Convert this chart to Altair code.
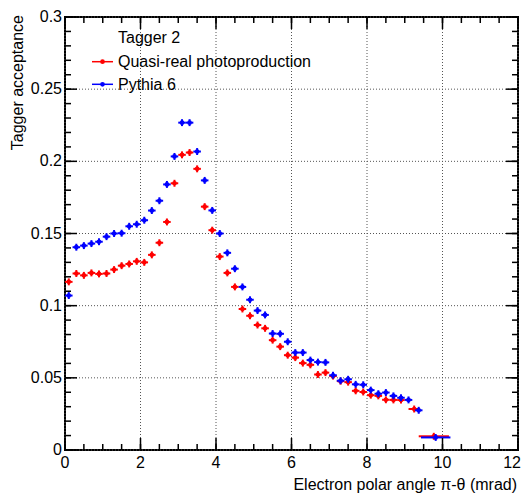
import altair as alt
import pandas as pd

FONT = "Liberation Sans"

legend_title = ["Tagger 2"]
series_names = ["Quasi-real photoproduction", "Pythia 6"]
series_colors = ["#ff0000", "#0000ff"]
guide_names = ["tick", "grid"]
guide_colors = ["#000000", "#555555"]
x_title = ["Electron polar angle π-θ (mrad)"]
y_title = ["Tagger acceptance"]

# Quasi-real photoproduction (red)
red_x = [0.1, 0.3, 0.5, 0.7, 0.9, 1.1, 1.3, 1.5, 1.7, 1.9, 2.1, 2.3, 2.5, 2.7, 2.9,
         3.1, 3.3, 3.5, 3.7, 3.9, 4.1, 4.3, 4.5, 4.7, 4.9, 5.1, 5.3, 5.5, 5.7, 5.9,
         6.1, 6.3, 6.5, 6.7, 6.9, 7.1, 7.3, 7.5, 7.7, 7.9, 8.1, 8.3, 8.5, 8.7, 8.9,
         9.25, 9.77]
red_hw = [0.1, 0.1, 0.1, 0.1, 0.1, 0.1, 0.1, 0.1, 0.1, 0.1, 0.1, 0.1, 0.1, 0.1, 0.1,
          0.1, 0.1, 0.1, 0.1, 0.1, 0.1, 0.1, 0.1, 0.1, 0.1, 0.1, 0.1, 0.1, 0.1, 0.1,
          0.1, 0.1, 0.1, 0.1, 0.1, 0.1, 0.1, 0.1, 0.1, 0.1, 0.1, 0.1, 0.1, 0.1, 0.1,
          0.15, 0.40]
red_y = [0.1165, 0.1223, 0.1210, 0.1227, 0.1220, 0.1223, 0.1250, 0.1277, 0.1289, 0.1307,
         0.1300, 0.1352, 0.1436, 0.1580, 0.1848, 0.2045, 0.2061, 0.1948, 0.1686, 0.1523,
         0.1340, 0.1227, 0.1130, 0.0977, 0.0930, 0.0866, 0.0843, 0.0761, 0.0716, 0.0657,
         0.0640, 0.0602, 0.0590, 0.0523, 0.0536, 0.0512, 0.0477, 0.0470, 0.0410, 0.0402,
         0.0380, 0.0375, 0.0348, 0.0347, 0.0346, 0.0284, 0.0095]
red_err = [0.0024] * len(red_x)

# Pythia 6 (blue)
blue_x = [0.1, 0.3, 0.5, 0.7, 0.9, 1.1, 1.3, 1.5, 1.7, 1.9, 2.1, 2.3, 2.5, 2.7, 2.9,
          3.1, 3.3, 3.5, 3.7, 3.9, 4.1, 4.3, 4.5, 4.7, 4.9, 5.1, 5.3, 5.5, 5.7, 5.9,
          6.1, 6.3, 6.5, 6.7, 6.9, 7.1, 7.3, 7.5, 7.7, 7.9, 8.1, 8.3, 8.5, 8.7, 8.9,
          9.1, 9.37, 9.82]
blue_hw = [0.1, 0.1, 0.1, 0.1, 0.1, 0.1, 0.1, 0.1, 0.1, 0.1, 0.1, 0.1, 0.1, 0.1, 0.1,
           0.1, 0.1, 0.1, 0.1, 0.1, 0.1, 0.1, 0.1, 0.1, 0.1, 0.1, 0.1, 0.1, 0.1, 0.1,
           0.1, 0.1, 0.1, 0.1, 0.1, 0.1, 0.1, 0.1, 0.1, 0.1, 0.1, 0.1, 0.1, 0.1, 0.1,
           0.1, 0.1, 0.39]
blue_y = [0.1070, 0.1405, 0.1416, 0.1430, 0.1443, 0.1478, 0.1500, 0.1502, 0.1550, 0.1564,
          0.1592, 0.1659, 0.1727, 0.1840, 0.2034, 0.2268, 0.2268, 0.2068, 0.1868, 0.1660,
          0.1500, 0.1366, 0.1256, 0.1130, 0.1041, 0.0966, 0.0936, 0.0807, 0.0805, 0.0750,
          0.0675, 0.0675, 0.0623, 0.0609, 0.0607, 0.0518, 0.0480, 0.0490, 0.0455, 0.0452,
          0.0415, 0.0390, 0.0398, 0.0375, 0.0362, 0.0347, 0.0275, 0.0087]
blue_err = [0.0024] * len(blue_x)

x_major = [0, 2, 4, 6, 8, 10, 12]
x_labels = ["0", "2", "4", "6", "8", "10", "12"]
x_minor = [i * 0.5 for i in range(25)]
y_major = [0, 0.05, 0.1, 0.15, 0.2, 0.25, 0.3]
y_labels = ["0", "0.05", "0.1", "0.15", "0.2", "0.25", "0.3"]
y_minor = [round(i * 0.01, 2) for i in range(31)]

W, H = 453, 433
MAJ, MIN = 12, 6


def frame(x, hw, y, err, name):
    return pd.DataFrame({
        "x": x,
        "xlo": [a - h for a, h in zip(x, hw)],
        "xhi": [a + h for a, h in zip(x, hw)],
        "y": y,
        "ylo": [a - e for a, e in zip(y, err)],
        "yhi": [a + e for a, e in zip(y, err)],
        "series": name,
    })


red_df = frame(red_x, red_hw, red_y, red_err, series_names[0])
blue_df = frame(blue_x, blue_hw, blue_y, blue_err, series_names[1])

xs = alt.Scale(domain=[0, 12], nice=False, zero=False)
ys = alt.Scale(domain=[0, 0.3], nice=False, zero=False)
cs = alt.Scale(domain=series_names + guide_names, range=series_colors + guide_colors)
col = alt.Color("series:N", scale=cs, legend=None)


def X(field):
    return alt.X(field, type="quantitative", scale=xs, axis=None)


def Y(field):
    return alt.Y(field, type="quantitative", scale=ys, axis=None)


def guide_df(values, kind):
    return pd.DataFrame({"v": values, "series": kind})


# dotted grid
xgrid = alt.Chart(guide_df(x_major, "grid")).mark_rule(
    strokeWidth=1, strokeDash=[1, 2]
).encode(x=X("v"), color=col)
ygrid = alt.Chart(guide_df(y_major, "grid")).mark_rule(
    strokeWidth=1, strokeDash=[1, 2]
).encode(y=Y("v"), color=col)


def series_layers(df):
    h = alt.Chart(df).mark_rule(strokeWidth=2).encode(
        x=X("xlo"), x2="xhi", y=Y("y"), color=col)
    v = alt.Chart(df).mark_rule(strokeWidth=2).encode(
        x=X("x"), y=Y("ylo"), y2="yhi", color=col)
    p = alt.Chart(df).mark_point(filled=True, size=22, opacity=1).encode(
        x=X("x"), y=Y("y"), color=col)
    return [h, v, p]


# inward ticks on all four sides
def xticks(values, y0, y1):
    return alt.Chart(guide_df(values, "tick")).mark_rule(strokeWidth=1.5).encode(
        x=X("v"), y=alt.value(y0), y2=alt.value(y1), color=col)


def yticks(values, x0, x1):
    return alt.Chart(guide_df(values, "tick")).mark_rule(strokeWidth=1.5).encode(
        y=Y("v"), x=alt.value(x0), x2=alt.value(x1), color=col)


tick_layers = [
    xticks(x_major, H, H - MAJ), xticks(x_minor, H, H - MIN),
    xticks(x_major, 0, MAJ), xticks(x_minor, 0, MIN),
    yticks(y_major, 0, MAJ), yticks(y_minor, 0, MIN),
    yticks(y_major, W, W - MAJ), yticks(y_minor, W, W - MIN),
]

# tick labels and axis titles
txt = dict(fontSize=16, font=FONT, color="black")
xlab_df = pd.DataFrame({"v": x_major, "label": x_labels})
xlab = alt.Chart(xlab_df.iloc[:-1]).mark_text(align="center", baseline="alphabetic", **txt).encode(
    x=X("v"), y=alt.value(H + 18), text="label:N")
xlab_last = alt.Chart(xlab_df.iloc[-1:]).mark_text(
    align="right", baseline="alphabetic", dx=3, **txt
).encode(x=X("v"), y=alt.value(H + 18), text="label:N")
ylab = alt.Chart(pd.DataFrame({"v": y_major, "label": y_labels})).mark_text(
    align="right", baseline="middle", **txt
).encode(y=Y("v"), x=alt.value(-3), text="label:N")
xtitle = alt.Chart(pd.DataFrame({"t": x_title})).mark_text(
    align="right", baseline="alphabetic", **txt
).encode(x=alt.value(W - 1), y=alt.value(H + 40), text="t:N")
ytitle = alt.Chart(pd.DataFrame({"t": y_title})).mark_text(
    align="right", baseline="alphabetic", angle=270, **txt
).encode(x=alt.value(-42), y=alt.value(-2), text="t:N")

# legend
legend_rows = [44.7, 67.3]
legend_layers = []
for name, ry in zip(series_names, legend_rows):
    ldf = pd.DataFrame({"series": [name]})
    legend_layers.append(alt.Chart(ldf).mark_rule(strokeWidth=1.5).encode(
        x=alt.value(27), x2=alt.value(48), y=alt.value(ry), color=col))
    legend_layers.append(alt.Chart(ldf).mark_point(filled=True, size=22, opacity=1).encode(
        x=alt.value(37.5), y=alt.value(ry), color=col))
    legend_layers.append(alt.Chart(ldf).mark_text(
        align="left", baseline="alphabetic", **txt
    ).encode(x=alt.value(53), y=alt.value(ry + 5.6), text="series:N"))

title_layer = alt.Chart(pd.DataFrame({"t": legend_title})).mark_text(
    align="left", baseline="alphabetic", **txt
).encode(x=alt.value(53), y=alt.value(26), text="t:N")

chart = alt.layer(
    xgrid, ygrid, *series_layers(red_df), *series_layers(blue_df),
    *tick_layers, xlab, xlab_last, ylab, xtitle, ytitle,
    *legend_layers, title_layer
).properties(
    width=W, height=H,
    autosize=alt.AutoSizeParams(type="none"),
    padding={"left": 57, "top": 9, "right": 3, "bottom": 44},
).configure(font=FONT).configure_view(stroke="black", strokeWidth=2)

chart.save("out.html", embed_options={"renderer": "svg", "actions": False})
